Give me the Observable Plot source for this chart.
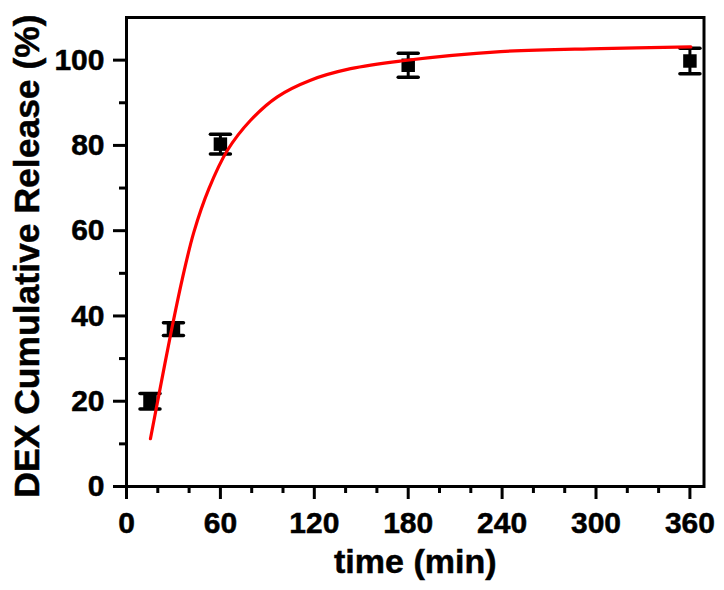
<!DOCTYPE html>
<html>
<head>
<meta charset="utf-8">
<script src="https://cdn.jsdelivr.net/npm/d3@7"></script>
<script src="https://cdn.jsdelivr.net/npm/@observablehq/plot@0.6"></script>
<style>
  html, body { margin: 0; padding: 0; background: #ffffff; }
  #chart { width: 724px; height: 590px; }
  #chart svg text { stroke: #000000; stroke-width: 0.5px; }
</style>
</head>
<body>
<div id="chart"></div>
<script>
// Measured data (time in min, cumulative release in %)
const time = [15, 30, 60, 180, 360];
const release = [20.0, 36.9, 80.3, 98.8, 99.8];
const errorBar = [1.8, 1.5, 2.3, 2.8, 3.0];

// Fitted curve
const fitTime = [15.3, 19.6, 28.6, 35.6, 43, 52.6, 64.4, 79.3, 96.4, 117.6, 143.2, 175.2, 239, 303, 360.6];
const fitRelease = [11.2, 19.4, 36.4, 48.6, 59.6, 69.8, 78.8, 85.9, 91.4, 95.3, 98.0, 99.8, 102.0, 102.7, 103.1];

// Tick labels
const xTicks = [0, 60, 120, 180, 240, 300, 360];
const xMinorTicks = [20, 40, 80, 100, 140, 160, 200, 220, 260, 280, 320, 340];
const yTicks = [0, 20, 40, 60, 80, 100];
const yMinorTicks = [10, 30, 50, 70, 90];

const xTitle = "time (min)";
const yTitle = "DEX Cumulative Release (%)";

const points = time.map((t, i) => ({t, v: release[i], e: errorBar[i]}));
const caps = points.flatMap(d => [{t: d.t, v: d.v + d.e}, {t: d.t, v: d.v - d.e}]);
const fit = fitTime.map((t, i) => ({t, v: fitRelease[i]}));

const hline = {
  draw(context, size) {
    const h = Math.sqrt(size / Math.PI);
    context.moveTo(-h, 0);
    context.lineTo(h, 0);
  }
};

const font = "'Liberation Sans', Arial, Helvetica, sans-serif";

const chart = Plot.plot({
  width: 724,
  height: 590,
  marginLeft: 126,
  marginRight: 20.5,
  marginTop: 17,
  marginBottom: 104,
  style: {fontFamily: font, fontWeight: "bold", background: "#ffffff", color: "#000000"},
  x: {domain: [0, 369]},
  y: {domain: [0, 110]},
  marks: [
    Plot.axisX({ticks: xMinorTicks, tickSize: 7, strokeWidth: 3, tickFormat: null, text: null, label: null}),
    Plot.axisX({ticks: xTicks, tickSize: 13, tickPadding: 12, strokeWidth: 3, fontSize: 30, fontWeight: "bold", tickFormat: d => String(d), label: null}),
    Plot.axisY({ticks: yMinorTicks, tickSize: 7, strokeWidth: 3, tickFormat: null, text: null, label: null}),
    Plot.axisY({ticks: yTicks, tickSize: 13, tickPadding: 9, strokeWidth: 3, fontSize: 30, fontWeight: "bold", tickFormat: d => String(d), label: null}),
    Plot.frame({stroke: "#000000", strokeWidth: 3}),
    Plot.ruleX(points, {x: "t", y1: d => d.v - d.e, y2: d => d.v + d.e, stroke: "#000000", strokeWidth: 3}),
    Plot.dot(caps, {x: "t", y: "v", symbol: hline, r: 10, stroke: "#000000", strokeWidth: 3.5, strokeLinecap: "round", fill: "none"}),
    Plot.dot(points, {x: "t", y: "v", symbol: "square", r: 7.6, fill: "#000000", stroke: "none"}),
    Plot.line(fit, {x: "t", y: "v", stroke: "#ff0000", strokeWidth: 3.2, curve: "catmull-rom"}),
    Plot.text([xTitle], {frameAnchor: "bottom", dy: 76, fontSize: 34, fontWeight: "bold", textAnchor: "middle", lineAnchor: "middle", fill: "#000000"}),
    Plot.text([yTitle], {frameAnchor: "left", dx: -99, dy: 4, rotate: -90, fontSize: 35.5, fontWeight: "bold", textAnchor: "middle", lineAnchor: "middle", fill: "#000000"})
  ]
});

document.getElementById("chart").appendChild(chart);
</script>
</body>
</html>
